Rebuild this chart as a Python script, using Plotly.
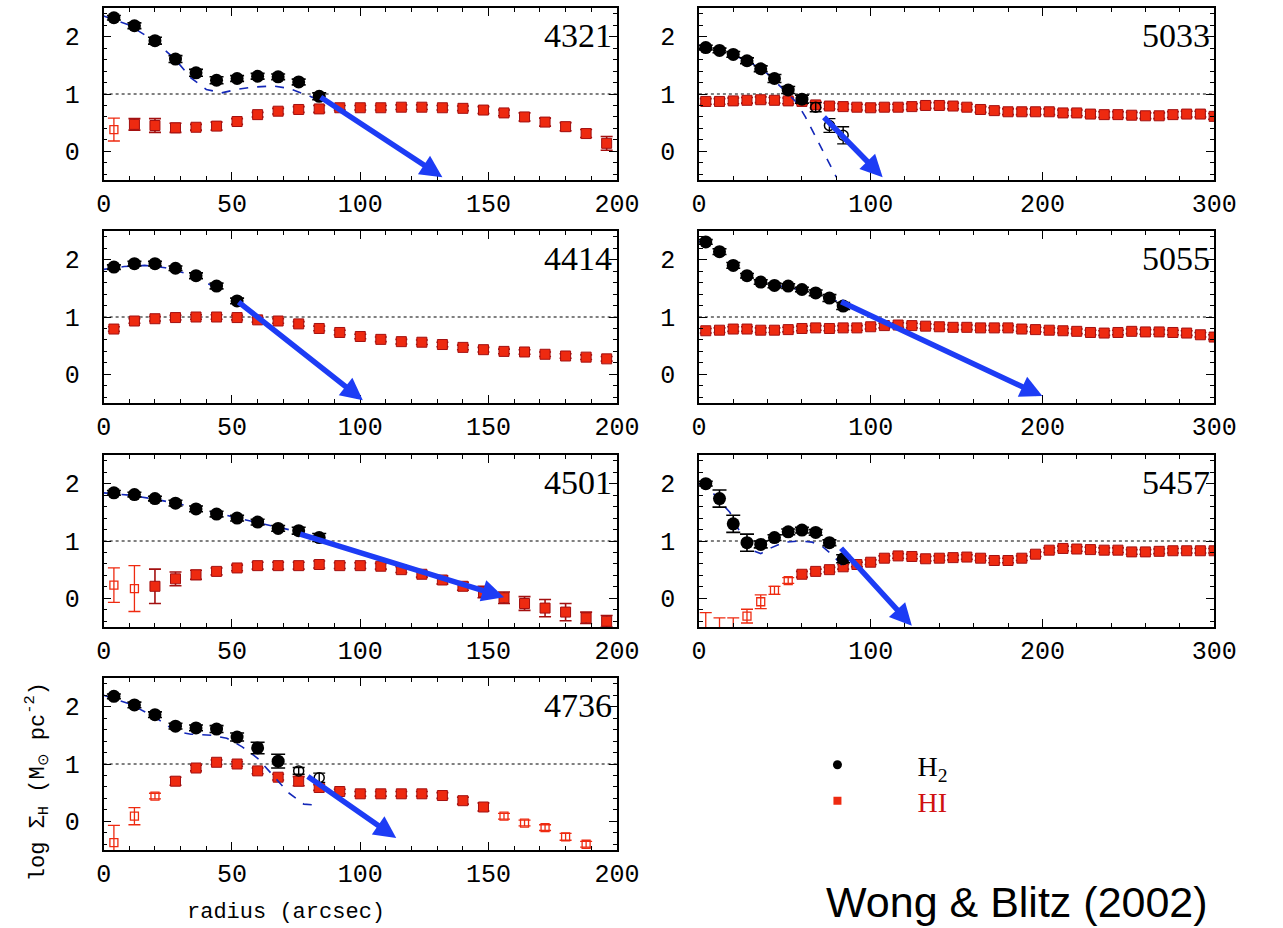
import plotly.graph_objects as go

# ---------------- data ----------------
R_H2 = [4, 12, 20, 28, 36, 44, 52, 60, 68, 76, 84]
R_H2_4414 = [4, 12, 20, 28, 36, 44, 52]
R_HI_200 = [4 + 8 * i for i in range(25)]
R_HI_300 = [4 + 8 * i for i in range(38)]
R_HI_4736 = [4 + 8 * i for i in range(24)]

GALAXIES = ["4321", "5033", "4414", "5055", "4501", "5457", "4736"]

H2_4321 = [2.33, 2.19, 1.93, 1.61, 1.37, 1.24, 1.27, 1.31, 1.30, 1.21, 0.96]
H2_4321_ERR = [0.04, 0.05, 0.06, 0.06, 0.06, 0.06, 0.05, 0.05, 0.05, 0.05, 0.06]
H2_4321_OPEN = []
MOD_4321_R = [0, 10, 20, 28, 34, 40, 46, 52, 58, 66, 72, 80, 84]
MOD_4321 = [2.36, 2.20, 1.92, 1.60, 1.28, 1.08, 1.02, 1.08, 1.12, 1.14, 1.10, 0.97, 0.88]
HI_4321 = [0.38, 0.47, 0.45, 0.41, 0.42, 0.44, 0.52, 0.64, 0.70, 0.73, 0.74, 0.76, 0.76,
           0.76, 0.77, 0.77, 0.76, 0.75, 0.72, 0.67, 0.60, 0.51, 0.43, 0.31, 0.14]
HI_4321_ERR = [0.20, 0.10, 0.12, 0.08, 0.05, 0.07, 0.05, 0.04, 0.05, 0.05, 0.06, 0.04, 0.04,
               0.04, 0.04, 0.04, 0.04, 0.04, 0.06, 0.05, 0.07, 0.07, 0.07, 0.07, 0.12]
HI_4321_OPEN = [0]
ARROW_4321 = [84, 0.96, 132, -0.45]

H2_5033 = [1.81, 1.76, 1.69, 1.58, 1.44, 1.27, 1.07, 0.91, 0.77, 0.45, 0.28]
H2_5033_ERR = [0.04, 0.04, 0.05, 0.05, 0.05, 0.07, 0.06, 0.07, 0.08, 0.12, 0.15]
H2_5033_OPEN = [8, 9, 10]
MOD_5033_R = [0, 10, 20, 30, 40, 50, 57, 62, 68, 74, 80]
MOD_5033 = [1.85, 1.78, 1.68, 1.55, 1.35, 1.05, 0.85, 0.60, 0.25, -0.10, -0.45]
HI_5033 = [0.87, 0.87, 0.88, 0.89, 0.90, 0.89, 0.88, 0.87, 0.81, 0.79, 0.78, 0.77, 0.76,
           0.77, 0.77, 0.78, 0.80, 0.80, 0.79, 0.77, 0.73, 0.71, 0.69, 0.69, 0.69, 0.69,
           0.67, 0.67, 0.65, 0.64, 0.64, 0.63, 0.62, 0.62, 0.64, 0.65, 0.65, 0.61]
HI_5033_ERR = [0.05] * 38
HI_5033_OPEN = []
ARROW_5033 = [72, 0.62, 107, -0.45]

H2_4414 = [1.87, 1.93, 1.93, 1.85, 1.72, 1.54, 1.28]
H2_4414_ERR = [0.04, 0.04, 0.04, 0.04, 0.05, 0.05, 0.05]
H2_4414_OPEN = []
MOD_4414_R = [0, 8, 16, 24, 32, 40, 46]
MOD_4414 = [1.83, 1.88, 1.90, 1.86, 1.76, 1.60, 1.45]
HI_4414 = [0.79, 0.93, 0.97, 0.99, 1.00, 1.00, 0.99, 0.95, 0.93, 0.88, 0.80, 0.73, 0.66,
           0.61, 0.57, 0.56, 0.52, 0.47, 0.43, 0.40, 0.39, 0.35, 0.32, 0.30, 0.27]
HI_4414_ERR = [0.04] * 25
HI_4414_OPEN = []
ARROW_4414 = [52, 1.28, 101, -0.45]

H2_5055 = [2.31, 2.14, 1.90, 1.72, 1.61, 1.55, 1.54, 1.48, 1.42, 1.33, 1.19]
H2_5055_ERR = [0.04, 0.05, 0.05, 0.04, 0.04, 0.04, 0.04, 0.04, 0.05, 0.06, 0.06]
H2_5055_OPEN = []
MOD_5055_R = [0, 10, 20, 30, 40, 50, 60, 70, 80, 86]
MOD_5055 = [2.32, 2.16, 1.92, 1.68, 1.58, 1.53, 1.47, 1.38, 1.28, 1.22]
HI_5055 = [0.76, 0.77, 0.79, 0.79, 0.77, 0.77, 0.78, 0.80, 0.81, 0.80, 0.81, 0.81, 0.83,
           0.85, 0.86, 0.85, 0.84, 0.83, 0.82, 0.82, 0.81, 0.81, 0.81, 0.79, 0.78, 0.77,
           0.76, 0.75, 0.73, 0.72, 0.73, 0.75, 0.74, 0.74, 0.73, 0.72, 0.69, 0.65]
HI_5055_ERR = [0.04] * 38
HI_5055_OPEN = []
ARROW_5055 = [82, 1.28, 200, -0.38]

H2_4501 = [1.84, 1.81, 1.74, 1.66, 1.56, 1.47, 1.40, 1.33, 1.22, 1.18, 1.06]
H2_4501_ERR = [0.04, 0.04, 0.04, 0.05, 0.05, 0.05, 0.05, 0.05, 0.05, 0.06, 0.07]
H2_4501_OPEN = []
MOD_4501_R = [0, 10, 20, 30, 40, 50, 60, 70, 78]
MOD_4501 = [1.84, 1.80, 1.73, 1.64, 1.53, 1.42, 1.32, 1.22, 1.14]
HI_4501 = [0.23, 0.17, 0.21, 0.34, 0.41, 0.47, 0.53, 0.57, 0.57, 0.57, 0.59, 0.57, 0.57,
           0.56, 0.50, 0.42, 0.32, 0.21, 0.11, 0.01, -0.09, -0.17, -0.24, -0.34, -0.40]
HI_4501_ERR = [0.30, 0.40, 0.30, 0.12, 0.08, 0.06, 0.05, 0.06, 0.06, 0.06, 0.06, 0.05, 0.05,
               0.05, 0.05, 0.05, 0.07, 0.07, 0.10, 0.10, 0.12, 0.15, 0.15, 0.10, 0.10]
HI_4501_OPEN = [0, 1]
ARROW_4501 = [76, 1.13, 156, 0.02]

H2_5457 = [2.00, 1.74, 1.30, 0.97, 0.94, 1.06, 1.16, 1.19, 1.15, 0.97, 0.69]
H2_5457_ERR = [0.04, 0.15, 0.15, 0.15, 0.06, 0.05, 0.05, 0.05, 0.05, 0.05, 0.07]
H2_5457_OPEN = []
MOD_5457_R = [0, 6, 12, 18, 24, 30, 36, 42, 50, 58, 66, 72, 78, 84]
MOD_5457 = [2.00, 1.92, 1.70, 1.50, 1.15, 0.85, 0.78, 0.88, 0.98, 1.00, 0.98, 0.90, 0.75, 0.55]
HI_5457 = [-0.60, -0.70, -0.70, -0.31, -0.06, 0.14, 0.31, 0.42, 0.47, 0.50, 0.55, 0.59, 0.63,
           0.70, 0.74, 0.73, 0.69, 0.70, 0.71, 0.72, 0.70, 0.66, 0.66, 0.70, 0.77, 0.84,
           0.87, 0.86, 0.85, 0.84, 0.84, 0.81, 0.81, 0.82, 0.83, 0.83, 0.83, 0.83]
HI_5457_ERR = [0.35, 0.36, 0.36, 0.12, 0.12, 0.07, 0.05, 0.05] + [0.04] * 30
HI_5457_OPEN = [0, 1, 2, 3, 4, 5, 6]
ARROW_5457 = [82, 0.90, 124, -0.48]

H2_4736 = [2.18, 2.03, 1.86, 1.66, 1.63, 1.61, 1.47, 1.28, 1.05, 0.88, 0.76]
H2_4736_ERR = [0.04, 0.05, 0.05, 0.05, 0.05, 0.06, 0.07, 0.10, 0.12, 0.06, 0.08]
H2_4736_OPEN = [9, 10]
MOD_4736_R = [0, 10, 20, 28, 34, 42, 48, 54, 60, 66, 72, 78, 84]
MOD_4736 = [2.20, 2.05, 1.82, 1.57, 1.52, 1.50, 1.45, 1.30, 1.10, 0.80, 0.50, 0.30, 0.28]
HI_4736 = [-0.37, 0.09, 0.44, 0.70, 0.93, 1.03, 1.00, 0.88, 0.77, 0.70, 0.59, 0.52, 0.48,
           0.48, 0.48, 0.48, 0.45, 0.36, 0.25, 0.09, -0.03, -0.11, -0.27, -0.40]
HI_4736_ERR = [0.30, 0.15, 0.05, 0.07, 0.05, 0.04, 0.04, 0.05, 0.05, 0.08, 0.05, 0.04, 0.04,
               0.04, 0.04, 0.04, 0.05, 0.06, 0.07, 0.05, 0.05, 0.05, 0.06, 0.05]
HI_4736_OPEN = [0, 1, 2, 19, 20, 21, 22, 23]
ARROW_4736 = [79, 0.80, 114, -0.29]

X_MAX = {"4321": 200, "5033": 300, "4414": 200, "5055": 300, "4501": 200, "5457": 300, "4736": 200}
Y_RANGE = [-0.5, 2.5]
THRESHOLD = 1.0

PANELS = [
    ("4321", R_H2, H2_4321, H2_4321_ERR, H2_4321_OPEN, MOD_4321_R, MOD_4321,
     R_HI_200, HI_4321, HI_4321_ERR, HI_4321_OPEN, ARROW_4321),
    ("5033", R_H2, H2_5033, H2_5033_ERR, H2_5033_OPEN, MOD_5033_R, MOD_5033,
     R_HI_300, HI_5033, HI_5033_ERR, HI_5033_OPEN, ARROW_5033),
    ("4414", R_H2_4414, H2_4414, H2_4414_ERR, H2_4414_OPEN, MOD_4414_R, MOD_4414,
     R_HI_200, HI_4414, HI_4414_ERR, HI_4414_OPEN, ARROW_4414),
    ("5055", R_H2, H2_5055, H2_5055_ERR, H2_5055_OPEN, MOD_5055_R, MOD_5055,
     R_HI_300, HI_5055, HI_5055_ERR, HI_5055_OPEN, ARROW_5055),
    ("4501", R_H2, H2_4501, H2_4501_ERR, H2_4501_OPEN, MOD_4501_R, MOD_4501,
     R_HI_200, HI_4501, HI_4501_ERR, HI_4501_OPEN, ARROW_4501),
    ("5457", R_H2, H2_5457, H2_5457_ERR, H2_5457_OPEN, MOD_5457_R, MOD_5457,
     R_HI_300, HI_5457, HI_5457_ERR, HI_5457_OPEN, ARROW_5457),
    ("4736", R_H2, H2_4736, H2_4736_ERR, H2_4736_OPEN, MOD_4736_R, MOD_4736,
     R_HI_4736, HI_4736, HI_4736_ERR, HI_4736_OPEN, ARROW_4736),
]

# ---------------- layout geometry (pixels) ----------------
W, H = 1283, 928
COL_X = [(98, 624), (708, 1236)]
ROW_TOP = [8, 231, 455, 678]
PANEL_H = 172

TICK_FONT = dict(family="Liberation Mono", size=25, color="black")
BLACK = "black"
RED = "#ee2a10"
RED_DARK = "#a31010"
ARROW_BLUE = "#1d3cf5"
MODEL_BLUE = "#1428b8"

fig = go.Figure()
layout = dict(width=W, height=H, autosize=False, margin=dict(l=0, r=0, t=0, b=0),
              paper_bgcolor="white", plot_bgcolor="white", showlegend=True)
annotations = []
shapes = []


def split(xs, ys, es, open_idx):
    fx, fy, fe, ox, oy, oe = [], [], [], [], [], []
    for i, (x, y, e) in enumerate(zip(xs, ys, es)):
        if i in open_idx:
            ox.append(x); oy.append(y); oe.append(e)
        else:
            fx.append(x); fy.append(y); fe.append(e)
    return fx, fy, fe, ox, oy, oe


for k, (name, rh2, h2, h2e, h2o, mr, mv, rhi, hi, hie, hio, arrow) in enumerate(PANELS):
    n = k + 1
    row, col = divmod(k, 2)
    xs = "" if n == 1 else str(n)
    xa, ya = "x" + xs, "y" + xs
    x0, x1 = COL_X[col]
    top = ROW_TOP[row]
    xmax = X_MAX[name]
    major = 50 if xmax == 200 else 100
    minor = 10 if xmax == 200 else 20

    axis_common = dict(showline=True, linecolor=BLACK, linewidth=1.5, mirror="allticks",
                       ticks="inside", ticklen=8, tickwidth=1.2, tickcolor=BLACK,
                       showgrid=False, zeroline=False, tickfont=TICK_FONT)
    layout["xaxis" + xs] = dict(
        domain=[x0 / W, x1 / W], anchor=ya, range=[0, xmax],
        tickmode="linear", tick0=0, dtick=major, ticklabelstandoff=0,
        minor=dict(dtick=minor, ticks="inside", ticklen=4, tickwidth=1, tickcolor=BLACK, showgrid=False),
        **axis_common)
    layout["yaxis" + xs] = dict(
        domain=[1 - (top + PANEL_H) / H, 1 - top / H], anchor=xa, range=Y_RANGE,
        tickmode="array", tickvals=[0, 1, 2], ticktext=["0", "1", "2"], ticklabelstandoff=17,
        minor=dict(dtick=0.2, tick0=0, ticks="inside", ticklen=4, tickwidth=1, tickcolor=BLACK, showgrid=False),
        **axis_common)

    # threshold dotted line
    shapes.append(dict(type="line", xref=xa + " domain", yref=ya, x0=0, x1=1,
                       y0=THRESHOLD, y1=THRESHOLD, line=dict(color=BLACK, width=1, dash="dot"), layer="below"))

    # HI
    fx, fy, fe, ox, oy, oe = split(rhi, hi, hie, hio)
    fig.add_trace(go.Scatter(x=fx, y=fy, xaxis=xa, yaxis=ya, mode="markers", showlegend=False,
                             marker=dict(symbol="square", size=10, color=RED, line=dict(color=RED_DARK, width=1)),
                             error_y=dict(type="data", array=fe, color=RED_DARK, thickness=1.6, width=6)))
    if ox:
        fig.add_trace(go.Scatter(x=ox, y=oy, xaxis=xa, yaxis=ya, mode="markers", showlegend=False,
                                 marker=dict(symbol="square-open", size=8, color=RED, line=dict(color=RED, width=1.3)),
                                 error_y=dict(type="data", array=oe, color=RED, thickness=1.3, width=6)))

    # model curve
    fig.add_trace(go.Scatter(x=mr, y=mv, xaxis=xa, yaxis=ya, mode="lines", showlegend=False,
                             line=dict(color=MODEL_BLUE, width=1.6, dash="dash")))

    # H2
    fx, fy, fe, ox, oy, oe = split(rh2, h2, h2e, h2o)
    fig.add_trace(go.Scatter(x=fx, y=fy, xaxis=xa, yaxis=ya, mode="markers", showlegend=False,
                             marker=dict(symbol="circle", size=13, color=BLACK),
                             error_y=dict(type="data", array=fe, color=BLACK, thickness=1.6, width=7)))
    if ox:
        fig.add_trace(go.Scatter(x=ox, y=oy, xaxis=xa, yaxis=ya, mode="markers", showlegend=False,
                                 marker=dict(symbol="circle-open", size=10, color=BLACK, line=dict(width=1.5)),
                                 error_y=dict(type="data", array=oe, color=BLACK, thickness=1.4, width=6)))

    # arrow
    ax0, ay0, ax1, ay1 = arrow
    annotations.append(dict(x=ax1, y=ay1, ax=ax0, ay=ay0, xref=xa, yref=ya, axref=xa, ayref=ya,
                            text="", showarrow=True, arrowhead=2, arrowsize=0.8, arrowwidth=5.5,
                            arrowcolor=ARROW_BLUE, standoff=0))

    # galaxy label
    annotations.append(dict(x=0.995, y=0.84, xref=xa + " domain", yref=ya + " domain",
                            text=name, showarrow=False, xanchor="right", yanchor="middle",
                            font=dict(family="Liberation Serif", size=34, color=BLACK)))

# legend entries (two separate legends so their spacing matches)
fig.add_trace(go.Scatter(x=[None], y=[None], mode="markers", name="H<sub>2</sub>", legend="legend",
                         marker=dict(symbol="circle", size=9, color=BLACK)))
fig.add_trace(go.Scatter(x=[None], y=[None], mode="markers", legend="legend2",
                         name="<span style='color:#d01010'>HI</span>",
                         marker=dict(symbol="square", size=8, color=RED)))

leg_common = dict(xanchor="left", bgcolor="rgba(0,0,0,0)", itemwidth=150,
                  font=dict(family="Liberation Serif", size=28, color=BLACK), itemclick=False)
layout["legend"] = dict(x=768 / W, y=1 - 790 / H, yanchor="bottom", **leg_common)
layout["legend2"] = dict(x=768 / W, y=1 - 776 / H, yanchor="top", **leg_common)

# axis titles and credit
annotations.append(dict(x=285 / W, y=1 - 912 / H, xref="paper", yref="paper", showarrow=False,
                        text="radius (arcsec)", xanchor="center", yanchor="middle",
                        font=dict(family="Liberation Mono", size=22, color=BLACK)))
annotations.append(dict(x=30 / W, y=1 - 782 / H, xref="paper", yref="paper", showarrow=False,
                        text="log Σ<sub>H</sub> (M<sub>⊙</sub> pc<sup>-2</sup>)", textangle=-90,
                        xanchor="center", yanchor="middle",
                        font=dict(family="Liberation Mono", size=22, color=BLACK)))
annotations.append(dict(x=1034 / W, y=0, xref="paper", yref="paper", showarrow=False,
                        text="Wong &amp; Blitz (2002)", xanchor="center", yanchor="bottom",
                        font=dict(family="Liberation Sans", size=43, color=BLACK)))

layout["annotations"] = annotations
layout["shapes"] = shapes
fig.update_layout(**layout)
fig.write_html("out.html")
